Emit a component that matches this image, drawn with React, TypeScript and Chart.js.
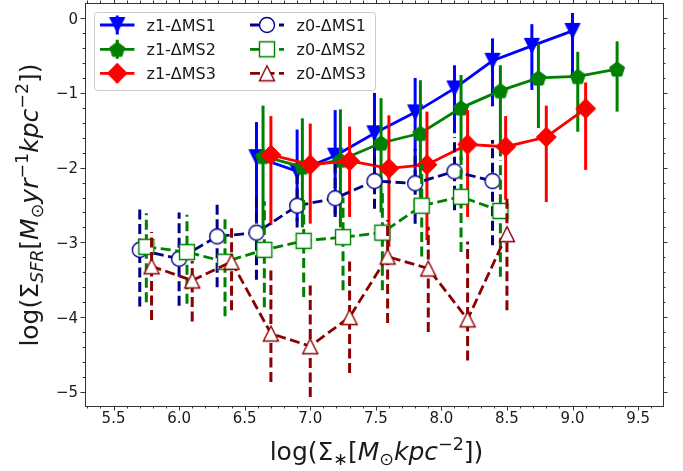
import React, { useEffect, useRef } from 'react';
import { Chart, registerables } from 'chart.js';

Chart.register(...registerables);

// ---------- axes ----------
const X_MIN = 5.29;
const X_MAX = 9.69;
const Y_MIN = -5.19;
const Y_MAX = 0.19;
const X_TICKS = [5.5, 6.0, 6.5, 7.0, 7.5, 8.0, 8.5, 9.0, 9.5];
const X_TICK_LABELS = ['5.5', '6.0', '6.5', '7.0', '7.5', '8.0', '8.5', '9.0', '9.5'];
const Y_TICKS = [0, -1, -2, -3, -4, -5];
const Y_TICK_LABELS = ['0', '−1', '−2', '−3', '−4', '−5'];
const X_MINOR_STEP = 0.1;
const Y_MINOR_STEP = 0.2;

// ---------- series ----------
const LABELS = ['z1-ΔMS1', 'z1-ΔMS2', 'z1-ΔMS3', 'z0-ΔMS1', 'z0-ΔMS2', 'z0-ΔMS3'];

const Z1_MS1_X = [6.59, 6.90, 7.19, 7.49, 7.80, 8.10, 8.39, 8.69, 9.00];
const Z1_MS1_Y = [-1.86, -2.05, -1.84, -1.54, -1.26, -0.94, -0.57, -0.37, -0.17];
const Z1_MS1_HI = [-1.39, -1.49, -1.23, -1.00, -0.80, -0.63, -0.27, -0.08, 0.07];
const Z1_MS1_LO = [-2.75, -2.72, -2.63, -2.20, -2.10, -1.54, -1.18, -0.96, -0.78];

const Z1_MS2_X = [6.64, 6.94, 7.23, 7.54, 7.84, 8.15, 8.45, 8.74, 9.04, 9.34];
const Z1_MS2_Y = [-1.85, -1.99, -1.90, -1.67, -1.54, -1.20, -0.97, -0.80, -0.78, -0.68];
const Z1_MS2_HI = [-1.17, -1.34, -1.22, -1.07, -0.83, -0.76, -0.63, -0.34, -0.45, -0.31];
const Z1_MS2_LO = [-2.90, -2.80, -2.80, -2.60, -2.40, -1.90, -1.85, -1.47, -1.52, -1.25];

const Z1_MS3_X = [6.70, 7.00, 7.30, 7.60, 7.89, 8.20, 8.49, 8.80, 9.10];
const Z1_MS3_Y = [-1.83, -1.96, -1.91, -2.01, -1.96, -1.69, -1.72, -1.59, -1.21];
const Z1_MS3_HI = [-1.31, -1.41, -1.45, -1.30, -1.25, -1.23, -1.31, -1.17, -0.86];
const Z1_MS3_LO = [-2.77, -2.75, -2.66, -3.06, -2.97, -2.66, -2.43, -2.46, -2.03];

const Z0_MS1_X = [5.70, 6.00, 6.29, 6.59, 6.90, 7.19, 7.49, 7.80, 8.10, 8.39];
const Z0_MS1_Y = [-3.10, -3.22, -2.92, -2.87, -2.51, -2.41, -2.18, -2.21, -2.05, -2.18];
const Z0_MS1_HI = [-2.54, -2.60, -2.44, -2.35, -2.10, -1.95, -1.75, -1.75, -1.59, -1.63];
const Z0_MS1_LO = [-3.86, -3.85, -3.60, -3.50, -2.80, -2.66, -2.55, -2.75, -2.57, -3.04];

const Z0_MS2_X = [5.75, 6.06, 6.35, 6.65, 6.95, 7.25, 7.55, 7.85, 8.15, 8.45];
const Z0_MS2_Y = [-3.06, -3.13, -3.26, -3.10, -2.98, -2.93, -2.87, -2.51, -2.39, -2.58];
const Z0_MS2_HI = [-2.61, -2.63, -2.68, -2.45, -2.40, -2.40, -2.30, -1.95, -1.85, -1.90];
const Z0_MS2_LO = [-3.80, -3.82, -3.99, -3.87, -3.73, -3.64, -3.64, -3.19, -3.13, -3.46];

const Z0_MS3_X = [5.79, 6.10, 6.40, 6.70, 7.00, 7.30, 7.59, 7.90, 8.20, 8.50];
const Z0_MS3_Y = [-3.32, -3.51, -3.26, -4.22, -4.39, -4.00, -3.19, -3.35, -4.03, -2.89];
const Z0_MS3_HI = [-2.86, -3.25, -2.81, -3.33, -3.53, -3.21, -2.70, -2.79, -2.99, -2.40];
const Z0_MS3_LO = [-4.04, -4.06, -3.91, -4.87, -5.07, -4.75, -4.08, -4.20, -4.58, -3.91];

// ---------- styles ----------
const FONT = "'DejaVu Sans', 'Liberation Sans', sans-serif";
const TEXT_COLOR = '#1a1a1a';
const FRAME_COLOR = '#333333';
const DASH = [10, 4.5];

type Style = { color: string; marker: string; filled: boolean; dashed: boolean };
const STYLES: Style[] = [
  { color: '#0000ff', marker: 'v', filled: true, dashed: false },
  { color: '#008000', marker: 'p', filled: true, dashed: false },
  { color: '#ff0000', marker: 'D', filled: true, dashed: false },
  { color: '#00008b', marker: 'o', filled: false, dashed: true },
  { color: '#008000', marker: 's', filled: false, dashed: true },
  { color: '#8b0000', marker: '^', filled: false, dashed: true },
];

const SERIES = [
  { x: Z1_MS1_X, y: Z1_MS1_Y, hi: Z1_MS1_HI, lo: Z1_MS1_LO },
  { x: Z1_MS2_X, y: Z1_MS2_Y, hi: Z1_MS2_HI, lo: Z1_MS2_LO },
  { x: Z1_MS3_X, y: Z1_MS3_Y, hi: Z1_MS3_HI, lo: Z1_MS3_LO },
  { x: Z0_MS1_X, y: Z0_MS1_Y, hi: Z0_MS1_HI, lo: Z0_MS1_LO },
  { x: Z0_MS2_X, y: Z0_MS2_Y, hi: Z0_MS2_HI, lo: Z0_MS2_LO },
  { x: Z0_MS3_X, y: Z0_MS3_Y, hi: Z0_MS3_HI, lo: Z0_MS3_LO },
];

type Seg = { t: string; it?: boolean; sub?: boolean; sup?: boolean };
const X_LABEL: Seg[] = [
  { t: 'log(Σ' }, { t: '∗', sub: true }, { t: '[' }, { t: 'M', it: true }, { t: '⊙', sub: true },
  { t: 'kpc', it: true }, { t: '−2', sup: true }, { t: '])' },
];
const Y_LABEL: Seg[] = [
  { t: 'log(Σ' }, { t: 'SFR', sub: true, it: true }, { t: '[' }, { t: 'M', it: true }, { t: '⊙', sub: true },
  { t: 'yr', it: true }, { t: '−1', sup: true }, { t: 'kpc', it: true }, { t: '−2', sup: true }, { t: '])' },
];

function minorTicks(min: number, max: number, step: number, majors: number[]) {
  const out: number[] = [];
  const a = Math.ceil(min / step - 1e-9);
  const b = Math.floor(max / step + 1e-9);
  for (let k = a; k <= b; k++) {
    const v = k * step;
    if (!majors.some((m) => Math.abs(m - v) < 1e-6)) out.push(v);
  }
  return out;
}

function makeMarker(shape: string, stroke: string, fill: string, lw: number) {
  const S = 28;
  const c = document.createElement('canvas');
  c.width = S;
  c.height = S;
  const ctx = c.getContext('2d')!;
  const m = S / 2;
  const h = 7.5;
  ctx.beginPath();
  if (shape === 'v') {
    ctx.moveTo(m - h, m - h);
    ctx.lineTo(m + h, m - h);
    ctx.lineTo(m, m + h);
    ctx.closePath();
  } else if (shape === '^') {
    ctx.moveTo(m, m - h);
    ctx.lineTo(m + h, m + h);
    ctx.lineTo(m - h, m + h);
    ctx.closePath();
  } else if (shape === 'p') {
    const R = 7.9;
    for (let k = 0; k < 5; k++) {
      const a = -Math.PI / 2 + (k * 2 * Math.PI) / 5;
      const px = m + R * Math.cos(a);
      const py = m + 0.7 + R * Math.sin(a);
      if (k === 0) ctx.moveTo(px, py);
      else ctx.lineTo(px, py);
    }
    ctx.closePath();
  } else if (shape === 'D') {
    const d = 10;
    ctx.moveTo(m, m - d);
    ctx.lineTo(m + d, m);
    ctx.lineTo(m, m + d);
    ctx.lineTo(m - d, m);
    ctx.closePath();
  } else if (shape === 'o') {
    ctx.arc(m, m, h, 0, Math.PI * 2);
  } else if (shape === 's') {
    ctx.rect(m - h, m - h, 2 * h, 2 * h);
  }
  ctx.fillStyle = fill;
  ctx.fill();
  ctx.lineWidth = lw;
  ctx.strokeStyle = stroke;
  ctx.lineJoin = 'miter';
  ctx.stroke();
  return c;
}

function drawRich(ctx: CanvasRenderingContext2D, segs: Seg[], size: number) {
  const parts = segs.map((s) => {
    const fs = s.sub || s.sup ? size * 0.7 : size;
    const font = `${s.it ? 'italic ' : ''}${fs}px ${FONT}`;
    ctx.font = font;
    const w = ctx.measureText(s.t).width;
    const dy = s.sub ? size * 0.2 : s.sup ? -size * 0.42 : 0;
    return { t: s.t, font, w, dy };
  });
  const total = parts.reduce((a, p) => a + p.w, 0);
  let x = -total / 2;
  ctx.textBaseline = 'alphabetic';
  ctx.textAlign = 'left';
  for (const p of parts) {
    ctx.font = p.font;
    ctx.fillText(p.t, x, p.dy);
    x += p.w;
  }
}

export default function App() {
  const ref = useRef<HTMLCanvasElement>(null);

  useEffect(() => {
    const canvas = ref.current;
    if (!canvas) return;

    const markers = STYLES.map((s) =>
      makeMarker(s.marker, s.color, s.filled ? s.color : '#ffffff', s.filled ? 1 : 1.4)
    );

    const errorBarPlugin = {
      id: 'errorBars',
      beforeDatasetDraw(chart: any, args: any) {
        const i = args.index;
        const s = SERIES[i];
        const st = STYLES[i];
        const { ctx, chartArea: a } = chart;
        const xs = chart.scales.x;
        const ys = chart.scales.y;
        ctx.save();
        ctx.beginPath();
        ctx.rect(a.left, a.top, a.right - a.left, a.bottom - a.top);
        ctx.clip();
        ctx.strokeStyle = st.color;
        ctx.lineWidth = 3;
        ctx.lineCap = 'butt';
        ctx.setLineDash(st.dashed ? DASH : []);
        s.x.forEach((xv, k) => {
          const px = xs.getPixelForValue(xv);
          ctx.beginPath();
          ctx.moveTo(px, ys.getPixelForValue(s.lo[k]));
          ctx.lineTo(px, ys.getPixelForValue(s.hi[k]));
          ctx.stroke();
        });
        ctx.restore();
      },
    };

    const framePlugin = {
      id: 'frame',
      afterDatasetsDraw(chart: any) {
        const { ctx, chartArea: a } = chart;
        const xs = chart.scales.x;
        const ys = chart.scales.y;
        ctx.save();
        ctx.strokeStyle = FRAME_COLOR;
        ctx.lineWidth = 1;
        ctx.setLineDash([]);
        ctx.strokeRect(a.left - 0.5, a.top - 0.5, a.right - a.left + 1, a.bottom - a.top + 1);
        const xMinor = minorTicks(X_MIN, X_MAX, X_MINOR_STEP, X_TICKS);
        const yMinor = minorTicks(Y_MIN, Y_MAX, Y_MINOR_STEP, Y_TICKS);
        const tickX = (v: number, len: number) => {
          const p = Math.round(xs.getPixelForValue(v)) + 0.5;
          ctx.beginPath();
          ctx.moveTo(p, a.bottom);
          ctx.lineTo(p, a.bottom + len);
          ctx.moveTo(p, a.top - 1);
          ctx.lineTo(p, a.top - 1 - len);
          ctx.stroke();
        };
        const tickY = (v: number, len: number) => {
          const p = Math.round(ys.getPixelForValue(v)) + 0.5;
          ctx.beginPath();
          ctx.moveTo(a.left - 1, p);
          ctx.lineTo(a.left - 1 - len, p);
          ctx.moveTo(a.right, p);
          ctx.lineTo(a.right + len, p);
          ctx.stroke();
        };
        X_TICKS.forEach((v) => tickX(v, 4.5));
        xMinor.forEach((v) => tickX(v, 2.5));
        Y_TICKS.forEach((v) => tickY(v, 4.5));
        yMinor.forEach((v) => tickY(v, 2.5));

        // tick labels
        ctx.fillStyle = TEXT_COLOR;
        ctx.font = `15px ${FONT}`;
        ctx.textBaseline = 'alphabetic';
        ctx.textAlign = 'center';
        X_TICKS.forEach((v, k) => {
          ctx.fillText(X_TICK_LABELS[k], xs.getPixelForValue(v), a.bottom + 16.5);
        });
        ctx.textAlign = 'right';
        Y_TICKS.forEach((v, k) => {
          ctx.fillText(Y_TICK_LABELS[k], a.left - 8, ys.getPixelForValue(v) + 5.5);
        });
        ctx.restore();
      },
    };

    const labelPlugin = {
      id: 'axisLabels',
      afterDraw(chart: any) {
        const { ctx, chartArea: a } = chart;
        ctx.save();
        ctx.fillStyle = TEXT_COLOR;
        ctx.translate((a.left + a.right) / 2 + 2, 460);
        drawRich(ctx, X_LABEL, 25);
        ctx.restore();
        ctx.save();
        ctx.fillStyle = TEXT_COLOR;
        ctx.translate(38, 205);
        ctx.rotate(-Math.PI / 2);
        drawRich(ctx, Y_LABEL, 25);
        ctx.restore();
      },
    };

    const legendPlugin = {
      id: 'mplLegend',
      afterDraw(chart: any) {
        const ctx = chart.ctx as CanvasRenderingContext2D;
        ctx.save();
        const bx = 94.5, by = 12.5, bw = 281, bh = 78, r = 3;
        ctx.beginPath();
        ctx.moveTo(bx + r, by);
        ctx.lineTo(bx + bw - r, by);
        ctx.arcTo(bx + bw, by, bx + bw, by + r, r);
        ctx.lineTo(bx + bw, by + bh - r);
        ctx.arcTo(bx + bw, by + bh, bx + bw - r, by + bh, r);
        ctx.lineTo(bx + r, by + bh);
        ctx.arcTo(bx, by + bh, bx, by + bh - r, r);
        ctx.lineTo(bx, by + r);
        ctx.arcTo(bx, by, bx + r, by, r);
        ctx.closePath();
        ctx.fillStyle = 'rgba(255,255,255,0.8)';
        ctx.fill();
        ctx.strokeStyle = '#cccccc';
        ctx.lineWidth = 1;
        ctx.stroke();

        const rows = [25, 49.3, 73.3];
        const cols = [
          { x0: 100, x1: 134.5, tx: 146.5 },
          { x0: 250, x1: 284, tx: 296.5 },
        ];
        STYLES.forEach((st, i) => {
          const col = cols[Math.floor(i / 3)];
          const y = rows[i % 3];
          const cx = (col.x0 + col.x1) / 2;
          ctx.strokeStyle = st.color;
          ctx.lineWidth = 2.8;
          ctx.setLineDash(st.dashed ? DASH : []);
          ctx.beginPath();
          ctx.moveTo(col.x0, y);
          ctx.lineTo(col.x1, y);
          ctx.stroke();
          if (!st.dashed) {
            ctx.lineWidth = 3;
            ctx.beginPath();
            ctx.moveTo(cx, y + 9.5);
            ctx.lineTo(cx, y - 9.5);
            ctx.stroke();
          }
          ctx.setLineDash([]);
          const mk = markers[i];
          ctx.drawImage(mk, cx - mk.width / 2, y - mk.height / 2);
          ctx.fillStyle = TEXT_COLOR;
          ctx.font = `16px ${FONT}`;
          ctx.textAlign = 'left';
          ctx.textBaseline = 'alphabetic';
          ctx.fillText(LABELS[i], col.tx, y + 5.8);
        });
        ctx.restore();
      },
    };

    const orders = [6, 5, 4, 3, 2, 1];
    const datasets = SERIES.map((s, i) => ({
      label: LABELS[i],
      data: s.x.map((xv, k) => ({ x: xv, y: s.y[k] })),
      borderColor: STYLES[i].color,
      backgroundColor: STYLES[i].color,
      borderWidth: 2.8,
      borderDash: STYLES[i].dashed ? DASH : [],
      pointStyle: markers[i] as any,
      pointRadius: 8,
      pointHoverRadius: 8,
      fill: false,
      tension: 0,
      showLine: true,
      order: orders[i],
    }));

    const chart = new Chart(canvas, {
      type: 'line',
      data: { datasets },
      options: {
        animation: false,
        responsive: false,
        maintainAspectRatio: false,
        events: [],
        layout: { autoPadding: false, padding: { top: 4, right: 20, left: 0, bottom: 0 } },
        plugins: {
          legend: { display: false },
          tooltip: { enabled: false },
        },
        scales: {
          x: {
            type: 'linear',
            min: X_MIN,
            max: X_MAX,
            grid: { display: false, drawTicks: false },
            border: { display: false },
            ticks: { display: false },
            afterBuildTicks: (scale: any) => {
              scale.ticks = X_TICKS.map((v) => ({ value: v }));
            },
            afterFit: (scale: any) => {
              scale.height = 65;
            },
          },
          y: {
            type: 'linear',
            min: Y_MIN,
            max: Y_MAX,
            grid: { display: false, drawTicks: false },
            border: { display: false },
            ticks: { display: false },
            afterBuildTicks: (scale: any) => {
              scale.ticks = Y_TICKS.map((v) => ({ value: v }));
            },
            afterFit: (scale: any) => {
              scale.width = 86;
            },
          },
        },
      },
      plugins: [errorBarPlugin, framePlugin, labelPlugin, legendPlugin],
    });

    return () => chart.destroy();
  }, []);

  return (
    <div style={{ position: 'absolute', left: 0, top: 0, width: 683, height: 471, background: '#ffffff' }}>
      <canvas ref={ref} width={683} height={471} style={{ display: 'block', width: 683, height: 471 }} />
    </div>
  );
}
